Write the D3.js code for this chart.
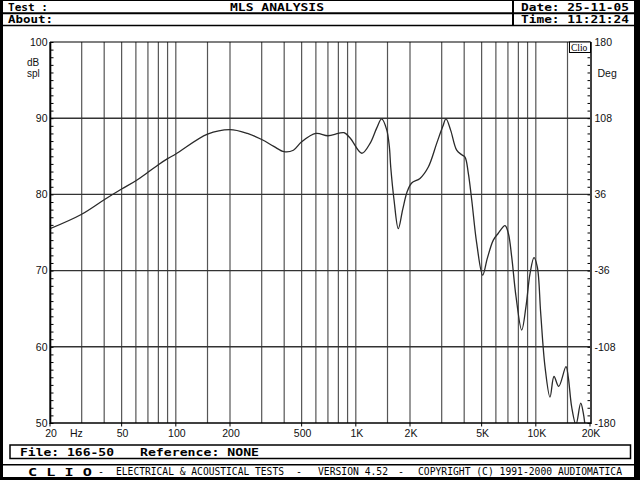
<!DOCTYPE html>
<html><head><meta charset="utf-8">
<script src="https://cdn.jsdelivr.net/npm/d3@7/dist/d3.min.js"></script>
<style>html,body{margin:0;padding:0;background:#fff;}svg{display:block;}</style>
</head><body>
<script>
// ---- data ----
const freqs = [20,30,40,50,60,70,80,90,100,150,200,250,300,350,400,450,500,600,700,800,860,930,1080,1200,1306,1392,1484,1535,1563,1630,1722,1821,1932,2044,2272,2528,2814,3040,3170,3366,3634,3876,4042,4216,4404,4694,5068,5376,5806,6188,6744,7034,7346,7762,8348,8820,9284,9770,10192,10646,11246,11990,12619,13400,14712,15150,15824,16720,17756,18360,19006];
const splValues = [75.5,77.4,79.3,80.7,81.8,82.9,83.9,84.7,85.3,87.9,88.5,88.0,87.2,86.3,85.6,85.8,86.9,88.0,87.7,88.0,88.1,87.4,85.4,86.7,88.7,89.9,88.5,86.3,83.6,79.3,75.5,78.0,80.4,81.5,82.1,83.6,86.7,88.9,89.9,88.4,85.8,85.2,84.9,82.8,79.3,73.6,69.4,71.6,74.0,74.9,75.9,74.9,71.8,66.6,62.2,65.3,69.6,71.7,70.5,64.4,57.4,53.4,56.1,54.8,57.4,56.0,52.1,49.8,52.6,51.3,48.5];
const gridFreqs = [30,40,50,60,70,80,90,100,150,200,300,400,500,600,700,800,900,1000,1500,2000,3000,4000,5000,6000,7000,8000,9000,10000,15000];
const xTickFreqs = [20,50,100,200,500,1000,2000,5000,10000,20000];
const xTickLabels = ["20","50","100","200","500","1K","2K","5K","10K","20K"];
const yTicks = [50,60,70,80,90,100];
const yGrid = [60,70,80,90];
const degTicks = [-180,-108,-36,36,108,180];

const W = 640, H = 480;
const svg = d3.select("body").append("svg").attr("width", W).attr("height", H);

// frame
svg.append("rect").attr("width", W).attr("height", H).attr("fill", "#000");
svg.append("rect").attr("x", 3).attr("y", 1).attr("width", 631).attr("height", 476).attr("fill", "#fff");
const blk = "#000";
function hline(y, x1, x2, w){ svg.append("line").attr("x1",x1).attr("x2",x2).attr("y1",y).attr("y2",y).attr("stroke",blk).attr("stroke-width",w); }
function vline(x, y1, y2, w){ svg.append("line").attr("x1",x).attr("x2",x).attr("y1",y1).attr("y2",y2).attr("stroke",blk).attr("stroke-width",w); }
hline(13.3, 3, 634, 2);
hline(25.5, 3, 634, 1.6);
vline(513, 1, 26, 2);
hline(464.7, 3, 634, 1.6);
svg.append("rect").attr("x",10).attr("y",445).attr("width",620.5).attr("height",13.5)
  .attr("fill","none").attr("stroke",blk).attr("stroke-width",1.5);

const mono = "'DejaVu Sans Mono', 'Liberation Mono', monospace";
function mtext(s, x, y, len, opts={}){
  const t = svg.append("text").attr("x",x).attr("y",y).text(s)
    .attr("font-family", mono).attr("font-size", opts.size || 11)
    .attr("font-weight", opts.weight || "bold").attr("fill", "#000");
  if (len) t.attr("textLength", len).attr("lengthAdjust", "spacingAndGlyphs");
  if (opts.anchor) t.attr("text-anchor", opts.anchor);
  return t;
}
mtext("Test :", 8, 11, 40);
mtext("About:", 8, 23, 45);
mtext("MLS ANALYSIS", 230, 11, 94);
mtext("Date: 25-11-05", 521, 11, 108);
mtext("Time: 11:21:24", 521, 23, 108);
mtext("File: 166-50", 20, 456, 94);
mtext("Reference: NONE", 140, 456, 119);
mtext("C L I O", 28, 475.5, 64, {size: 11});
mtext("-", 98, 475, 6, {size: 10, weight: "normal"});
mtext("ELECTRICAL & ACOUSTICAL TESTS", 116, 475, 168, {size: 10, weight: "normal"});
mtext("-", 296, 475, 6, {size: 10, weight: "normal"});
mtext("VERSION 4.52", 318, 475, 70, {size: 10, weight: "normal"});
mtext("-", 398, 475, 6, {size: 10, weight: "normal"});
mtext("COPYRIGHT (C) 1991-2000 AUDIOMATICA", 418, 475, 204, {size: 10, weight: "normal"});

// ---- plot ----
const x = d3.scaleLog().domain([20, 20000]).range([50, 590]);
const y = d3.scaleLinear().domain([50, 100]).range([423, 42]);
const yDeg = d3.scaleLinear().domain([-180, 180]).range([423, 42]);

const plot = svg.append("g");
// vertical grid
plot.selectAll(".vg").data(gridFreqs).enter().append("line")
  .attr("x1", d => x(d)).attr("x2", d => x(d)).attr("y1", 42).attr("y2", 423)
  .attr("stroke", "#555").attr("stroke-width", 1.2);
// horizontal grid
plot.selectAll(".hg").data(yGrid).enter().append("line")
  .attr("x1", 50).attr("x2", 590).attr("y1", d => y(d)).attr("y2", d => y(d))
  .attr("stroke", "#333").attr("stroke-width", 1.4);

// curve
svg.append("defs").append("clipPath").attr("id","clip").append("rect")
  .attr("x",50).attr("y",42).attr("width",540).attr("height",381);
const pts = freqs.map((f, i) => [x(f), y(splValues[i])]);
plot.append("path").attr("d", d3.line().curve(d3.curveCatmullRom.alpha(0.5))(pts))
  .attr("fill","none").attr("stroke","#2a2a2a").attr("stroke-width",1.3)
  .attr("clip-path","url(#clip)");

// border lines
plot.append("line").attr("x1",50).attr("x2",590).attr("y1",42).attr("y2",42).attr("stroke","#000").attr("stroke-width",1.2);
plot.append("line").attr("x1",50).attr("x2",591).attr("y1",423).attr("y2",423).attr("stroke","#000").attr("stroke-width",1.5);
plot.append("line").attr("x1",50.3).attr("x2",50.3).attr("y1",42).attr("y2",424).attr("stroke","#000").attr("stroke-width",2);
plot.append("line").attr("x1",591).attr("x2",591).attr("y1",42).attr("y2",424).attr("stroke","#000").attr("stroke-width",1.5);

// minor ticks (1 dB) via d3 axes
const leftAxis = d3.axisRight(y).tickValues(d3.range(50, 101, 1)).tickSize(2.5).tickFormat("");
const la = svg.append("g").attr("transform","translate(51,0)").call(leftAxis);
la.select(".domain").remove();
la.selectAll("line").attr("stroke","#000");
const rightAxis = d3.axisLeft(y).tickValues(d3.range(50, 101, 1)).tickSize(2.5).tickFormat("");
const ra = svg.append("g").attr("transform","translate(590,0)").call(rightAxis);
ra.select(".domain").remove();
ra.selectAll("line").attr("stroke","#000");

const sans = "'Liberation Sans', Arial, sans-serif";
const lab = "#111";
// left labels
svg.selectAll(".yl").data(yTicks).enter().append("text")
  .attr("x", 47.5).attr("y", d => y(d) + 3.8).attr("text-anchor","end")
  .attr("font-family", sans).attr("font-size", 10.5).attr("fill", lab).text(d => d);
svg.append("text").attr("x",27).attr("y",66).attr("font-family",sans).attr("font-size",10).attr("fill",lab).text("dB");
svg.append("text").attr("x",27).attr("y",77).attr("font-family",sans).attr("font-size",10).attr("fill",lab).text("spl");
// right labels
svg.selectAll(".rl").data(degTicks).enter().append("text")
  .attr("x", 594.5).attr("y", d => yDeg(d) + 3.8)
  .attr("font-family", sans).attr("font-size", 10.5).attr("fill", lab).text(d => d);
svg.append("text").attr("x",597.5).attr("y",77).attr("font-family",sans).attr("font-size",10.5).attr("fill",lab).text("Deg");
// bottom labels + ticks
svg.selectAll(".bt").data(xTickFreqs).enter().append("line")
  .attr("x1", d => x(d)).attr("x2", d => x(d)).attr("y1", 423).attr("y2", 426.5)
  .attr("stroke","#000").attr("stroke-width",1);
svg.selectAll(".xl").data(xTickFreqs).enter().append("text")
  .attr("x", d => x(d) + 1).attr("y", 437).attr("text-anchor","middle")
  .attr("font-family", sans).attr("font-size", 10.5).attr("fill", lab).text((d, i) => xTickLabels[i]);
svg.append("text").attr("x",70).attr("y",437).attr("font-family",sans).attr("font-size",10.5).attr("fill",lab).text("Hz");

// Clio box
svg.append("rect").attr("x",569.5).attr("y",42).attr("width",21).attr("height",10.5)
  .attr("fill","#fff").attr("stroke","#000").attr("stroke-width",1);
svg.append("text").attr("x",571).attr("y",50.5).attr("font-family","'Liberation Serif', serif")
  .attr("font-size",9.5).attr("fill","#000").text("Clio");
</script>
</body></html>
